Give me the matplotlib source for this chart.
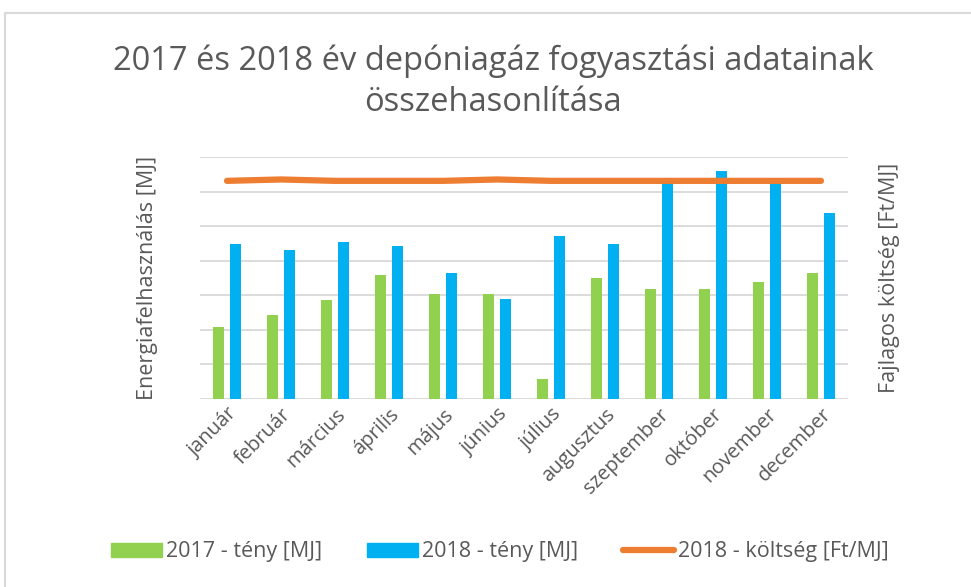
import matplotlib.pyplot as plt
import numpy as np
from matplotlib.patches import Rectangle
from matplotlib.lines import Line2D

months = ["január", "február", "március", "április", "május", "június",
          "július", "augusztus", "szeptember", "október", "november", "december"]
teny_2017 = [2.07, 2.44, 2.85, 3.60, 3.04, 3.04, 0.57, 3.49, 3.18, 3.18, 3.38, 3.64]
teny_2018 = [4.49, 4.32, 4.53, 4.42, 3.64, 2.89, 4.71, 4.49, 6.28, 6.59, 6.28, 5.39]
koltseg_2018 = [12.62, 12.70, 12.62, 12.62, 12.62, 12.70, 12.62, 12.62, 12.62, 12.62, 12.62, 12.62]

GREEN = "#92D050"
BLUE = "#00B0F0"
ORANGE = "#ED7D31"
GRID = "#D9D9D9"
TEXT = "#595959"

plt.rcParams["font.family"] = ["Open Sans", "DejaVu Sans"]

fig = plt.figure(figsize=(9.71, 5.87), dpi=100)
fig.patches.append(Rectangle((5 / 971, -0.1), 1.2, (587 - 13) / 587 + 0.1,
                             transform=fig.transFigure, fill=False,
                             edgecolor=GRID, linewidth=1.5))

ax = fig.add_axes([200 / 971, 1 - 399 / 587, 648 / 971, 242 / 587])
x = np.arange(len(months))
w = 0.21
ax.bar(x - 0.155, teny_2017, w, color=GREEN, zorder=2)
ax.bar(x + 0.155, teny_2018, w, color=BLUE, zorder=2)
ax.set_xlim(-0.5, len(months) - 0.5)
ax.set_ylim(0, 7)
ax.set_yticks(np.arange(0, 8))
ax.yaxis.grid(True, color=GRID, linewidth=1.3, zorder=0)
ax.tick_params(axis="y", length=0, labelleft=False)
ax.tick_params(axis="x", length=0, colors=TEXT, labelsize=14.5, pad=4)
ax.set_xticks(x)
ax.set_xticklabels(months, rotation=45, ha="right", rotation_mode="anchor")
for s in ax.spines.values():
    s.set_visible(False)
ax.set_ylabel("Energiafelhasználás [MJ]", color=TEXT, fontsize=15.5, labelpad=30)

ax2 = ax.twinx()
ax2.plot(x, koltseg_2018, color=ORANGE, linewidth=4.5, solid_capstyle="round", zorder=3)
ax2.set_ylim(0, 14)
ax2.tick_params(axis="y", length=0, labelright=False)
for s in ax2.spines.values():
    s.set_visible(False)
ax2.set_ylabel("Fajlagos költség [Ft/MJ]", color=TEXT, fontsize=15.5, labelpad=22)

fig.text(493 / 971, 1 - 82 / 587,
         "2017 és 2018 év depóniagáz fogyasztási adatainak\nösszehasonlítása",
         ha="center", va="center", fontsize=23.5, color=TEXT, linespacing=1.3)

handles = [Rectangle((0, 0), 1, 1, color=GREEN),
           Rectangle((0, 0), 1, 1, color=BLUE),
           Line2D([0], [0], color=ORANGE, linewidth=4.5, solid_capstyle="round")]
labels = ["2017 - tény [MJ]", "2018 - tény [MJ]", "2018 - költség [Ft/MJ]"]
fig.legend(handles, labels, loc="center", bbox_to_anchor=(500 / 971, 1 - 552 / 587),
           ncol=3, frameon=False, fontsize=15.5, labelcolor=TEXT,
           handlelength=2.35, handleheight=0.6, handletextpad=0.2, columnspacing=2.1)

fig.savefig("out.png", dpi=100)
